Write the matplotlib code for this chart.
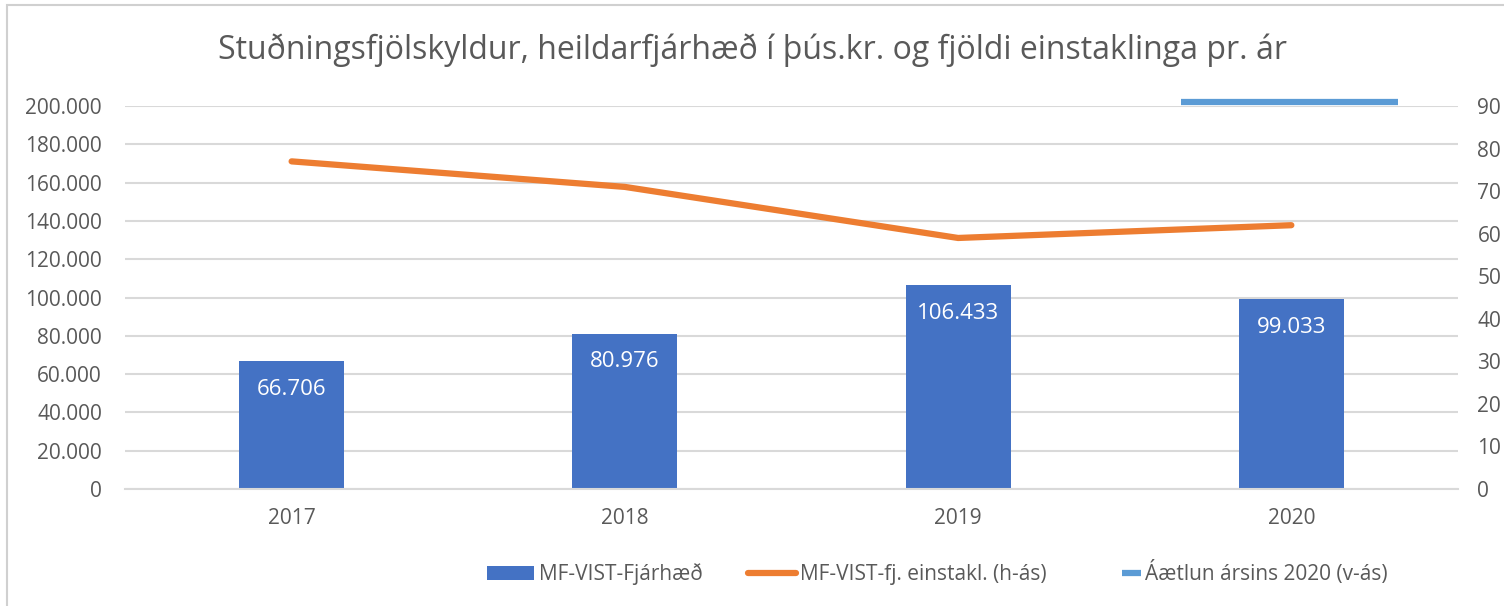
import numpy as np
import matplotlib.pyplot as plt
from matplotlib.patches import Rectangle
from matplotlib.lines import Line2D
from matplotlib.legend_handler import HandlerBase
from matplotlib.ticker import FuncFormatter

plt.rcParams['font.family'] = ['Open Sans', 'DejaVu Sans']

years = ['2017', '2018', '2019', '2020']
amount = [66706, 80976, 106433, 99033]
persons = [77, 71, 59, 62]
plan_2020 = 202000

bar_color = '#4472C4'
line_color = '#ED7D31'
plan_color = '#5B9BD5'
text_color = '#595959'
grid_color = '#D9D9D9'


class ShortLineHandler(HandlerBase):
    # the plan entry has a short key in the original legend
    def create_artists(self, legend, orig_handle, xdescent, ydescent,
                       width, height, fontsize, trans):
        y = height / 2 - ydescent
        ln = Line2D([width * 0.62 - xdescent, width - xdescent], [y, y],
                    color=orig_handle.get_color(),
                    linewidth=orig_handle.get_linewidth(),
                    solid_capstyle='butt')
        ln.set_transform(trans)
        return [ln]


fig = plt.figure(figsize=(15.04, 6.06), dpi=100)
ax = fig.add_axes([0.0831, 0.193, 0.8863, 0.632])
ax2 = ax.twinx()

x = np.arange(len(years))

bars = ax.bar(x, amount, width=0.315, color=bar_color, zorder=2,
              label='MF-VIST-Fjárhæð')
for b, v in zip(bars, amount):
    ax.text(b.get_x() + b.get_width() / 2, v - 14600,
            f'{v:,}'.replace(',', '.'), ha='center', va='center',
            color='white', fontsize=16)

plan_line, = ax.plot([x[-1] - 0.33, x[-1] + 0.32], [plan_2020, plan_2020],
                     color=plan_color, linewidth=4.5, solid_capstyle='butt',
                     clip_on=False, zorder=3, label='Áætlun ársins 2020 (v-ás)')

pers_line, = ax2.plot(x, persons, color=line_color, linewidth=4.5,
                      solid_capstyle='round', zorder=3,
                      label='MF-VIST-fj. einstakl. (h-ás)')

ax.set_xlim(-0.5, len(years) - 0.5)
ax.set_ylim(0, 200000)
ax2.set_ylim(0, 90)
ax.set_yticks(np.arange(0, 200001, 20000))
ax2.set_yticks(np.arange(0, 91, 10))
ax.yaxis.set_major_formatter(
    FuncFormatter(lambda v, p: f'{int(v):,}'.replace(',', '.')))

ax.set_xticks(x)
ax.set_xticklabels(years)
ax.grid(axis='y', color=grid_color, linewidth=1.5, zorder=0)
ax.set_axisbelow(True)

for a in (ax, ax2):
    for s in a.spines.values():
        s.set_visible(False)
    a.tick_params(length=0, labelsize=15, colors=text_color)
ax.tick_params(axis='x', pad=14)
ax.tick_params(axis='y', pad=16.5)
ax2.tick_params(axis='y', pad=14)
ax.spines['bottom'].set_visible(True)
ax.spines['bottom'].set_color(grid_color)
ax.spines['bottom'].set_linewidth(1.5)

fig.text(0.5, 0.918, 'Stuðningsfjölskyldur, heildarfjárhæð í þús.kr. og fjöldi einstaklinga pr. ár',
         ha='center', va='center', fontsize=23, color=text_color)

fig.legend(handles=[bars, pers_line, plan_line], loc='center',
           bbox_to_anchor=(0.623, 0.054), ncol=3, frameon=False,
           fontsize=15, labelcolor=text_color, handlelength=2.3,
           handletextpad=0.2, columnspacing=2.2,
           handler_map={plan_line: ShortLineHandler()})

fig.patches.append(Rectangle((7 / 1504, -0.01), 1.1, 1 - 5 / 606 + 0.01,
                             transform=fig.transFigure, fill=False,
                             edgecolor='#D0D0D0', linewidth=1.5))

fig.savefig('out.png', dpi=100)
